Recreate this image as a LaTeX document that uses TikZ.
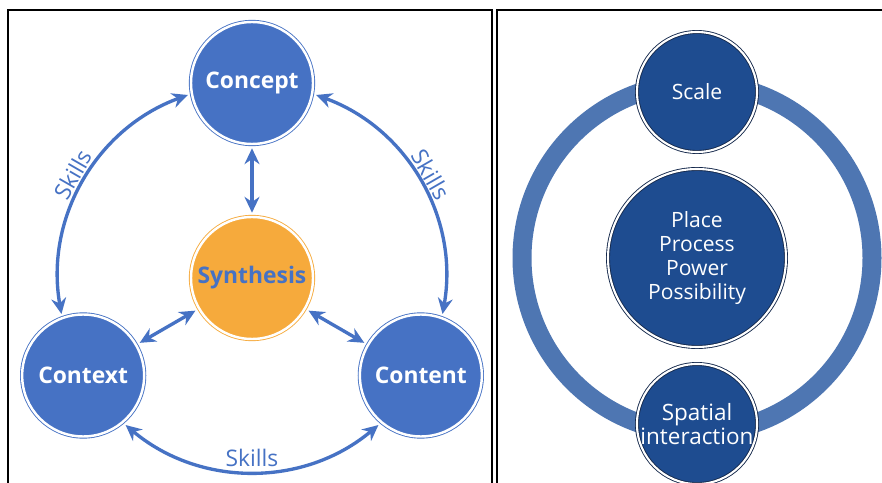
\documentclass[tikz,border=0pt]{standalone}
\usepackage{fontspec}
\setsansfont{Open Sans}
\usepackage{tikz}
\usetikzlibrary{arrows.meta, positioning, calc}
\definecolor{wheelblue}{RGB}{70, 114, 196}
\definecolor{wheelorange}{RGB}{246, 170, 60}
\definecolor{ringblue}{RGB}{78, 118, 178}
\definecolor{ringnavy}{RGB}{30, 76, 144}
\definecolor{ringedge}{RGB}{20, 40, 75}

\tikzset{
    hub/.style={circle, inner sep=0pt, minimum size=2.44cm, line width=0.5pt, double=white, double distance=1.4pt, font=\sffamily\bfseries\fontsize{13}{15}\selectfont},
    link/.style={{Stealth[length=9pt, width=8.5pt]}-{Stealth[length=9pt, width=8.5pt]}, line width=1.9pt, wheelblue, shorten <=2.2pt, shorten >=2.2pt},
    skills/.style={text=wheelblue, inner sep=1.8pt, font=\sffamily\fontsize{13}{15}\selectfont},
    dot/.style={circle, inner sep=0pt, minimum size=2.4cm, fill=ringnavy, draw=ringedge, line width=0.5pt, double=white, double distance=1.2pt, text=white, align=center, font=\sffamily\fontsize{12}{13.5}\selectfont}
}

\begin{document}
\begin{tikzpicture}
        \clip (0,0) rectangle (17.64,9.64);
        \fill[white] (0,0) rectangle (17.64,9.64);

        % Frames
        \draw[line width=1.1pt] (0.16,-0.2) -- (0.16,9.44) -- (9.84,9.44) -- (9.84,-0.2);
        \draw[line width=1.1pt] (9.94,-0.2) -- (9.94,9.44) -- (17.9,9.44);

        % Left wheel
        \node[hub, fill=wheelorange, draw=wheelorange, text=wheelblue] (synth) at (5.04,4.08) {Synthesis};
        \node[hub, fill=wheelblue, draw=wheelblue, text=white] (concept) at (5.04,7.98) {Concept};
        \node[hub, fill=wheelblue, draw=wheelblue, text=white] (context) at (1.663,2.13) {Context};
        \node[hub, fill=wheelblue, draw=wheelblue, text=white] (content) at (8.417,2.13) {Content};

        \draw[link] (concept) -- (synth);
        \draw[link] (synth) -- (context);
        \draw[link] (synth) -- (content);

        % Skills arcs
        \draw[link] (concept.190) to[out=200, in=100] node[skills, sloped, above] {Skills} (context.110);
        \draw[link] (concept.-10) to[out=-20, in=80] node[skills, sloped, above] {Skills} (content.70);
        \draw[link] (context.-50) to[out=-40, in=220] node[skills, sloped, above] {Skills} (content.230);

        % Right wheel
        \draw[ringblue, line width=0.38cm] (13.94,4.48) circle (3.5);
        \node[dot] (scale) at (13.94,7.80) {Scale};
        \node[dot, minimum size=3.56cm] (place) at (13.94,4.48) {Place\\Process\\Power\\Possibility};
        \node[dot, font=\sffamily\fontsize{12.8}{13.8}\selectfont] (spatial) at (13.94,1.16) {Spatial\\interaction};
    \end{tikzpicture}
\end{document}
